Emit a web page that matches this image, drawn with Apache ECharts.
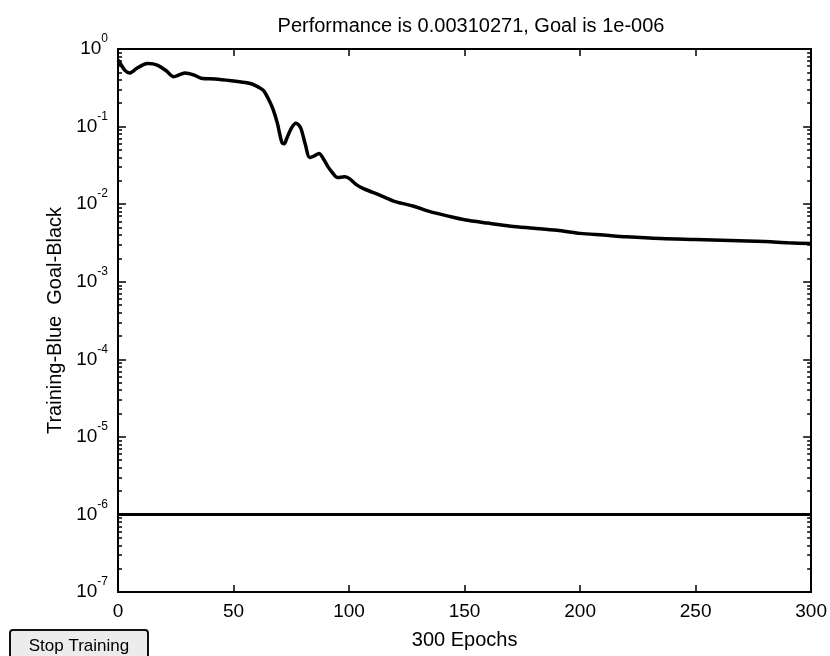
<!DOCTYPE html>
<html>
<head>
<meta charset="utf-8">
<script src="https://cdn.jsdelivr.net/npm/echarts@6/dist/echarts.min.js"></script>
<style>
  html, body { margin: 0; padding: 0; background: #fff; }
  #main { width: 830px; height: 656px; }
</style>
</head>
<body>
<div id="main"></div>
<script>
// training record
var epochs = [0, 1, 3, 5, 8, 11, 13, 17, 21, 24, 27, 29, 33, 36, 42, 49, 55, 58, 61, 63,
  65, 67, 69, 70, 71, 72, 73, 75, 77, 79, 81, 83, 85, 87, 89, 91, 93, 95, 98, 100,
  103, 106, 110, 114, 120, 128, 135, 143, 150, 160, 170, 180, 190, 200, 210, 220,
  235, 250, 265, 280, 290, 300];
var perf = [0.72, 0.65, 0.53, 0.49, 0.56, 0.63, 0.65, 0.62, 0.52, 0.44, 0.47, 0.49, 0.46, 0.42, 0.41, 0.39, 0.37, 0.354, 0.32, 0.29,
  0.23, 0.17, 0.11, 0.08, 0.062, 0.060, 0.07, 0.095, 0.11, 0.097, 0.06, 0.040, 0.042, 0.045, 0.038, 0.030, 0.025, 0.022, 0.0225, 0.0215,
  0.018, 0.016, 0.0143, 0.0128, 0.0108, 0.0094, 0.0080, 0.0070, 0.0063, 0.0057, 0.0052, 0.0049, 0.0046, 0.0042, 0.0040, 0.0038,
  0.0036, 0.0035, 0.0034, 0.0033, 0.00318, 0.00310];
var goal = 1e-6;
var goalEpochs = [0, 300];

var xTicks = [0, 50, 100, 150, 200, 250, 300];
var yDecades = [-7, -6, -5, -4, -3, -2, -1, 0];

var majorVals = yDecades.map(function (e) { return Math.pow(10, e); });
var minorVals = [];
yDecades.slice(0, -1).forEach(function (e) {
  for (var k = 2; k <= 9; k++) minorVals.push(k * Math.pow(10, e));
});

var FONT = 'Liberation Sans, Arial, sans-serif';

var myChart = echarts.init(document.getElementById('main'));

function xAxisCfg(pos, labels) {
  return {
    type: 'value', position: pos, min: 0, max: 300, interval: 50,
    name: labels ? '300 Epochs' : '', nameLocation: 'middle', nameGap: 38,
    nameTextStyle: { color: '#000', fontSize: 20, fontFamily: FONT },
    axisLine: { show: true, lineStyle: { color: '#000', width: 2 } },
    axisTick: { show: true, inside: true, length: 7, customValues: xTicks, lineStyle: { color: '#000', width: 1.5 } },
    axisLabel: { show: labels, color: '#000', fontSize: 19, fontFamily: FONT, margin: 10 },
    splitLine: { show: false }
  };
}

function yAxisCfg(pos, labels, minor) {
  return {
    type: 'log', logBase: 10, position: pos, min: 1e-7, max: 1, offset: 0,
    name: labels ? 'Training-Blue  Goal-Black' : '', nameLocation: 'middle', nameGap: 46,
    nameTextStyle: { color: '#000', fontSize: 20, fontFamily: FONT },
    axisLine: { show: !minor, lineStyle: { color: '#000', width: 2 } },
    axisTick: {
      show: true, inside: true, length: minor ? 4 : 8,
      customValues: minor ? minorVals : majorVals,
      lineStyle: { color: '#000', width: 1.5 }
    },
    axisLabel: {
      show: labels, margin: 10, customValues: majorVals,
      formatter: function (v) {
        return '{b|10}{s|' + Math.round(Math.log10(v)) + '}';
      },
      rich: {
        b: { fontSize: 19, fontFamily: FONT, color: '#000', lineHeight: 32 },
        s: { fontSize: 12, fontFamily: FONT, color: '#000', lineHeight: 12, verticalAlign: 'top' }
      }
    },
    splitLine: { show: false }
  };
}

var option = {
  animation: false,
  backgroundColor: '#fff',
  title: {
    text: 'Performance is 0.00310271, Goal is 1e-006',
    left: 466, top: 11, textAlign: 'center',
    textStyle: { color: '#000', fontSize: 20, fontWeight: 'normal', fontFamily: FONT }
  },
  grid: { left: 118, right: 16, top: 49, bottom: 64 },
  xAxis: [xAxisCfg('bottom', true), xAxisCfg('top', false)],
  yAxis: [
    yAxisCfg('left', true, false),
    yAxisCfg('left', false, true),
    yAxisCfg('right', false, false),
    yAxisCfg('right', false, true)
  ],
  series: [{
    name: 'Training',
    type: 'line',
    data: epochs.map(function (e, i) { return [e, perf[i]]; }),
    showSymbol: false,
    smooth: 0.3,
    lineStyle: { color: '#000', width: 3.5 }
  }, {
    name: 'Goal',
    type: 'line',
    data: goalEpochs.map(function (e) { return [e, goal]; }),
    showSymbol: false,
    lineStyle: { color: '#000', width: 3 }
  }],
  graphic: [{
    type: 'group', left: 9, top: 629,
    children: [{
      type: 'rect',
      shape: { x: 0, y: 0, width: 138, height: 32, r: 3 },
      style: { fill: '#ececec', stroke: '#111', lineWidth: 2 }
    }, {
      type: 'text', x: 69, y: 16,
      style: { text: 'Stop Training', fill: '#000', fontSize: 17, fontFamily: FONT, align: 'center', verticalAlign: 'middle' }
    }]
  }]
};

myChart.setOption(option);
</script>
</body>
</html>
